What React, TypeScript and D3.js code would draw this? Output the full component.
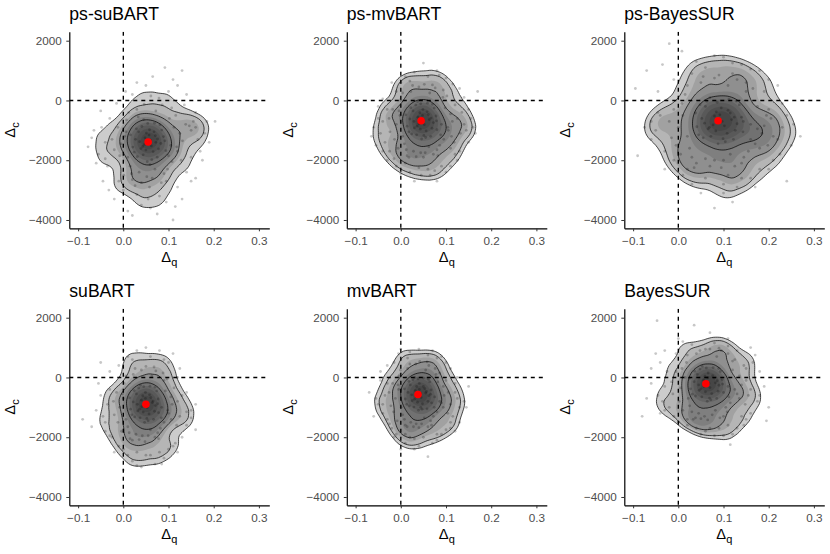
import { useEffect, useRef } from "react";
import * as d3 from "d3";

type Pt = [number, number];

// panel titles and the red posterior-mean markers
const titles = ["ps-suBART", "ps-mvBART", "ps-BayesSUR", "suBART", "mvBART", "BayesSUR"];
const meanQ = [0.055, 0.045, 0.088, 0.05, 0.038, 0.061];
const meanC = [-1390, -680, -680, -900, -570, -210];

const xTicks = [-0.1, 0, 0.1, 0.2, 0.3];
const yTicks = [-4000, -2000, 0, 2000];

// draws of (delta q, delta c)
const psSuBART: Pt[] = [
  [.055,-1390],[.048,-1250],[.062,-1520],[.071,-1180],[.039,-1610],[.058,-980],[.044,-1820],[.083,-1440],[.027,-1300],[.066,-1710],
  [.051,-1090],[.075,-1900],[.034,-1050],[.089,-1210],[.021,-1560],[.060,-1330],[.047,-1470],[.078,-1620],[.041,-870],[.069,-760],
  [.053,-2050],[.031,-1880],[.094,-1680],[.016,-1150],[.085,-990],[.057,-1160],[.036,-1380],[.072,-1400],[.063,-1980],[.045,-640],
  [.092,-1350],[.024,-1730],[.050,-1660],[.081,-820],[.068,-1050],[.029,-950],[.059,-2150],[.043,-1540],[.076,-1290],[.054,-770],
  [.105,-1500],[.003,-1200],[.112,-900],[.010,-1900],[.098,-2300],[-.005,-1450],[.120,-1700],[.018,-2450],[.030,-300],[.086,-150],
  [.064,-2600],[.040,-2750],[.125,-1100],[-.012,-900],[.108,-2050],[.007,-650],[.046,-120],[.072,-350],[.131,-1350],[-.020,-1650],
  [.095,-2700],[.015,-2200],[.116,-500],[.001,-2500],[.058,-2900],[.079,80],[.026,-2850],[.102,-600],[.138,-800],[-.008,-1850],
  [.090,-2450],[.035,-2400],[.061,150],[.128,-2000],[.012,-400],[.100,-1850],[.084,-2750],[-.025,-1300],[.052,-2550],[.118,-1550],
  [.006,-1050],[.070,-2300],[.033,-550],[.107,-250],[.020,-2650],[.146,-850],[.155,-700],[.150,-1000],
  [-.040,-1400],[-.070,-1250],[-.078,-1550],[.160,-900],[.203,-700],[.170,-1700],[.092,1100],[.130,1000],[.110,700],[.065,800],
  [.030,600],[.005,300],[-.045,-2700],[-.032,-3000],[.110,-4000],[.075,-3800],[.040,-3500],[.010,-3700],[-.020,-3300],[.130,-3300],
  [.150,-2700],[.160,-2600],[.095,-3400],[-.050,-350],[.140,200],[.055,-3300],[.190,-1400],[.175,-2000],[-.060,-2100],[.020,-3850],
];
const psSuBARTTail: Pt[] = [
  [-.030,-600],[-.035,-2200],[-.055,-1800],[-.048,-900],[.150,-1900],[.165,-1300],[.180,-1100],[.140,-2400],[.120,-2900],[.080,-3200],
  [.000,-3000],[-.010,-2700],[.100,300],[.050,500],[.020,200],[-.015,-100],[.120,500],[.160,-400],[.135,-150],[.185,-700],
  [-.065,-1000],[.060,-3600],[.115,-3550],[.030,-3150],[-.040,-1950],
];

const psMvBART: Pt[] = [
  [.045,-690],[.038,-560],[.052,-810],[.061,-470],[.030,-920],[.049,-300],[.035,-1150],[.072,-740],[.020,-620],[.056,-1020],
  [.042,-410],[.066,-1200],[.027,-350],[.078,-520],[.014,-860],[.050,-650],[.040,-780],[.069,-930],[.033,-150],[.059,-90],
  [.046,-1290],[.024,-1120],[.080,-980],[.011,-480],[.074,-250],[.048,-500],[.029,-700],[.063,-640],[.055,-1240],[.037,-40],
  [.079,-680],[.018,-1050],[.043,-960],[.070,-130],[.058,-380],[.022,-240],[.051,-1170],[.036,-860],[.067,-590],[.044,-110],
  [.090,-800],[-.002,-500],[.098,-250],[.004,-1200],[.086,-1500],[-.010,-800],[.105,-1000],[.012,-1650],[.022,300],[.076,420],
  [.054,-1750],[.034,-1880],[.110,-450],[-.018,-300],[.095,-1300],[.000,0],[.040,450],[.064,250],[.114,-700],[-.024,-1050],
  [.082,-1850],[.008,-1450],[.102,150],[-.006,-1600],[.050,-1900],[.070,520],[.018,-1900],[.093,100],[.120,-150],[-.014,-1300],
  [.080,-1650],[.028,-1700],[.052,540],[.112,-1200],[.004,250],[.088,-1150],[.072,-1800],[-.026,-600],[.044,-1750],[.104,-900],
  [-.004,-350],[.062,-1550],[.026,500],[.094,350],[.014,-1850],[.125,-600],[.132,-1100],[.118,-1400],
  [-.040,-700],[-.060,-900],[-.065,-1200],[.150,-1400],[.170,300],[.160,-900],[.050,1250],[.080,1000],[.030,950],[.010,800],
  [.100,750],[-.020,600],[-.040,-1700],[-.030,-2000],[.080,-2700],[.030,-2700],[.060,-2300],[.000,-2450],[-.010,-2200],[.110,-2200],
  [.130,-1700],[.140,-800],[.100,-2400],[-.050,-200],[.130,400],[.045,-2500],[.150,-300],[.125,-2000],[-.055,-1500],[.020,-2400],
];
const psMvBARTTail: Pt[] = [
  [-.030,-300],[-.045,-1100],[-.035,-1400],[.135,-400],[.145,-1000],[.155,-600],[.120,-1800],[.090,-2200],[.065,-2500],[.010,-2100],
  [-.015,-1950],[.115,550],[.060,800],[.020,650],[-.010,300],[.140,100],[.085,850],[-.050,-600],[.040,-2250],[.110,-1600],
  [.000,600],[.165,-1100],[-.040,50],[.075,-2350],[-.025,-1700],
];

const psBayesSUR: Pt[] = [
  [.090,-680],[.080,-520],[.102,-850],[.115,-420],[.066,-950],[.095,-250],[.072,-1200],[.130,-780],[.052,-600],[.108,-1100],
  [.084,-380],[.122,-1300],[.060,-200],[.140,-560],[.041,-880],[.097,-700],[.077,-820],[.126,-1000],[.063,-30],[.112,40],
  [.088,-1450],[.055,-1250],[.143,-1050],[.038,-420],[.135,-150],[.092,-480],[.058,-760],[.118,-640],[.104,-1380],[.070,90],
  [.144,-700],[.045,-1150],[.083,-1020],[.128,-20],[.110,-330],[.048,-140],[.099,-1280],[.069,-900],[.124,-560],[.086,-60],
  [.160,-800],[.010,-500],[.175,-200],[.020,-1200],[.155,-1700],[.000,-900],[.185,-1100],[.030,-1900],[.050,600],[.130,700],
  [.100,-2000],[.070,-2200],[.195,-500],[-.010,-300],[.170,-1450],[.015,200],[.080,750],[.110,500],[.190,-850],[-.015,-1250],
  [.140,-2100],[.025,-1600],[.165,400],[.005,-1800],[.095,-2250],[.120,900],[.040,-2100],[.150,300],[.200,-300],[-.005,-1500],
  [.145,-1900],[.060,-1950],[.090,850],[.180,-1600],[.020,500],[.160,-1300],[.125,-2200],[-.020,-700],[.080,-2000],[.175,-950],
  [.008,-100],[.115,-1800],[.055,800],[.150,600],[.035,-2250],[.205,-600],[.210,-1200],[.198,-1500],
  [-.040,-500],[-.070,1000],[-.095,400],[-.090,-1850],[-.060,-1300],[.270,-1200],[.250,-1500],[.240,-2700],[.230,-100],[-.020,1900],
  [.008,1650],[.080,1500],[.100,1450],[.040,1300],[.140,1200],[.180,1000],[-.030,-2300],[.010,-2500],[.080,-3600],[.120,-3400],
  [.050,-3100],[.160,-2600],[.200,-2300],[-.050,-1000],[.220,500],[.100,-2800],[.030,-2800],[.225,-1800],[-.045,300],[.170,-2900],
];
const psBayesSURTail: Pt[] = [
  [-.030,-1700],[-.045,-400],[-.060,-700],[-.010,700],[.030,900],[.060,1100],[.120,1250],[.160,1050],[.200,700],[.230,-900],
  [.220,-1300],[.240,-500],[.210,-2000],[.180,-2300],[.140,-2600],[.110,-2500],[.060,-2600],[.020,-2300],[-.010,-2000],[.255,-800],
  [-.075,-900],[.190,300],[.100,-3100],[-.035,1200],[.130,-2900],
];

const suBART: Pt[] = [
  [.046,-890],[.040,-760],[.053,-1010],[.061,-670],[.032,-1120],[.049,-500],[.037,-1350],[.071,-940],[.022,-820],[.057,-1220],
  [.043,-610],[.067,-1400],[.029,-550],[.077,-720],[.016,-1060],[.051,-850],[.041,-980],[.069,-1130],[.034,-350],[.059,-290],
  [.047,-1500],[.025,-1320],[.078,-1180],[.014,-680],[.074,-450],[.049,-700],[.031,-900],[.064,-840],[.055,-1450],[.038,-260],
  [.076,-880],[.019,-1250],[.044,-1160],[.070,-330],[.058,-580],[.024,-440],[.052,-1370],[.036,-1060],[.066,-790],[.045,-310],
  [.085,-1000],[.000,-700],[.093,-450],[.006,-1400],[.082,-1700],[-.008,-1000],[.100,-1200],[.013,-1850],[.022,100],[.072,220],
  [.055,-1950],[.035,-2080],[.105,-650],[-.015,-500],[.090,-1500],[.002,-200],[.040,250],[.063,50],[.108,-900],[-.020,-1250],
  [.078,-2050],[.010,-1650],[.097,-50],[-.004,-1800],[.048,-2150],[.068,350],[.020,-2100],[.090,-100],[.112,-350],[-.012,-1500],
  [.076,-1850],[.028,-1900],[.050,370],[.106,-1400],[.005,50],[.084,-1350],[.070,-2000],[-.022,-800],[.042,-1950],[.098,-1100],
  [-.002,-550],[.060,-1750],[.026,300],[.088,150],[.015,-2050],[.120,-800],[.125,-1300],[.118,-1600],
  [-.035,-900],[-.090,-1400],[-.070,-1650],[.160,-1750],[.140,-1150],[.110,800],[.050,1000],[.080,900],[.030,900],[.010,700],
  [-.050,500],[-.030,200],[-.040,-1800],[.000,-3100],[.070,-2900],[.040,-3000],[.060,-2600],[.010,-2600],[-.010,-2300],[.100,-2400],
  [.130,-2000],[.140,-500],[.090,-2700],[-.050,-600],[.120,0],[.030,-2500],[.150,-1100],[.115,-2200],[-.045,-1300],[.020,-2800],
];
const suBARTTail: Pt[] = [
  [-.030,-400],[-.040,-1500],[-.025,-2000],[.130,-600],[.140,-1600],[.150,-1350],[.110,-2300],[.080,-2500],[.050,-2600],[.000,-2400],
  [-.020,-2500],[.100,500],[.060,700],[.020,600],[-.010,400],[.125,300],[.090,600],[-.060,-1100],[.030,-2950],[.120,-2500],
  [.000,900],[.160,-900],[-.055,-200],[.085,-2900],[-.030,-1950],
];

const mvBART: Pt[] = [
  [.038,-560],[.032,-440],[.045,-670],[.053,-370],[.025,-780],[.041,-200],[.029,-990],[.062,-610],[.016,-500],[.048,-880],
  [.035,-300],[.058,-1050],[.021,-250],[.067,-420],[.010,-720],[.043,-530],[.034,-650],[.060,-800],[.027,-80],[.050,-20],
  [.039,-1100],[.019,-950],[.068,-850],[.008,-380],[.064,-150],[.041,-400],[.024,-580],[.055,-520],[.047,-1060],[.031,0],
  [.066,-560],[.013,-900],[.037,-830],[.061,-60],[.050,-300],[.018,-130],[.044,-1000],[.030,-730],[.057,-470],[.038,-50],
  [.075,-650],[-.005,-400],[.082,-150],[.001,-1000],[.072,-1300],[-.012,-700],[.090,-850],[.008,-1400],[.015,300],[.062,400],
  [.046,-1550],[.028,-1650],[.094,-300],[-.018,-200],[.080,-1150],[-.004,50],[.033,450],[.055,250],[.096,-600],[-.022,-950],
  [.068,-1600],[.004,-1250],[.086,150],[-.008,-1450],[.040,-1680],[.058,520],[.014,-1650],[.078,100],[.100,-100],[-.016,-1150],
  [.066,-1450],[.022,-1500],[.042,540],[.094,-1000],[-.001,250],[.074,-1000],[.060,-1650],[-.026,-500],[.034,-1550],[.086,-800],
  [-.006,-250],[.052,-1350],[.020,450],[.076,300],[.010,-1600],[.105,-500],[.110,-900],[.104,-1200],
  [-.035,-600],[-.070,-500],[-.060,-1300],[.150,-300],[.130,-1500],[.120,-1800],[.000,950],[.040,950],[.070,900],[.020,850],
  [.090,700],[-.030,400],[-.040,-1200],[-.020,-1700],[.060,-2650],[.000,-2400],[.040,-2300],[.020,-2000],[-.010,-1900],[.090,-1900],
  [.110,-1500],[.120,-200],[.080,-2100],[-.045,-100],[.110,300],[.030,-2050],[.125,-700],[.100,-1750],[-.050,-900],[.010,-2200],
];
const mvBARTTail: Pt[] = [
  [-.030,-200],[-.040,-900],[-.030,-1400],[.120,-500],[.130,-1000],[.140,-800],[.110,-1700],[.080,-1900],[.050,-2000],[.010,-1900],
  [-.015,-2000],[.100,500],[.060,750],[.015,650],[-.015,500],[.125,0],[.080,650],[-.055,-700],[.030,-2400],[.115,-1300],
  [-.005,800],[.145,-1000],[-.045,200],[.070,-2200],[-.025,-1550],
];

const bayesSUR: Pt[] = [
  [.063,-220],[.056,-90],[.070,-340],[.080,-20],[.046,-430],[.066,150],[.052,-650],[.090,-260],[.035,-140],[.074,-540],
  [.059,40],[.085,-700],[.042,100],[.097,-70],[.027,-380],[.068,-200],[.057,-310],[.088,-460],[.048,280],[.077,330],
  [.064,-800],[.038,-620],[.100,-500],[.025,-30],[.093,200],[.065,-10],[.045,-250],[.082,-180],[.072,-750],[.053,370],
  [.098,-220],[.031,-560],[.060,-480],[.089,300],[.076,60],[.036,210],[.069,-690],[.050,-380],[.086,-110],[.062,320],
  [.110,-300],[.015,0],[.120,250],[.022,-700],[.105,-1000],[.005,-350],[.130,-550],[.030,-1150],[.040,800],[.095,900],
  [.075,-1250],[.050,-1380],[.135,50],[-.005,200],[.115,-850],[.018,500],[.060,950],[.085,700],[.140,-250],[-.012,-550],
  [.100,-1300],[.025,-950],[.125,600],[.010,-1100],[.065,-1420],[.090,980],[.038,-1350],[.120,550],[.145,400],[.002,-800],
  [.108,-1150],[.045,-1200],[.070,950],[.135,-700],[.020,750],[.112,-650],[.092,-1350],[-.015,-150],[.058,-1300],[.125,-400],
  [.008,300],[.082,-1100],[.048,900],[.110,800],[.033,-1400],[.150,-100],[.155,-600],[.148,-900],
  [-.030,-300],[-.070,-700],[-.060,300],[-.080,-1300],[.195,-1450],[.170,750],[-.047,1900],[.035,1750],[.070,1500],[.000,1300],
  [.110,1300],[-.030,900],[-.020,-1000],[.000,-1500],[.115,-2250],[.120,-1900],[.130,-1700],[.060,-1800],[.040,-1700],[.150,-1400],
  [.180,-600],[.180,200],[.090,-1700],[-.040,500],[.160,1000],[.080,-1950],[.200,-1000],[.160,-1200],[-.045,-600],[.020,-1600],
];
const bayesSURTail: Pt[] = [
  [-.025,200],[-.035,-800],[-.030,-1100],[.150,300],[.160,-400],[.175,-800],[.140,-1300],[.110,-1600],[.070,-1700],[.020,-1400],
  [-.010,-1300],[.130,900],[.080,1150],[.030,1100],[-.005,800],[.165,500],[.110,1050],[-.060,-200],[.050,-1900],[.145,-1600],
  [.010,1200],[.190,-300],[-.050,800],[.100,-1950],[-.040,-1200],
];

const panels = [
  psSuBART.concat(psSuBARTTail),
  psMvBART.concat(psMvBARTTail),
  psBayesSUR.concat(psBayesSURTail),
  suBART.concat(suBARTTail),
  mvBART.concat(mvBARTTail),
  bayesSUR.concat(bayesSURTail),
];
// kernel width per panel (px), contour lines (share of the peak density) and shading steps
const bandwidths = [9, 8.5, 11, 8.5, 8, 8.5];
const lineLevels = [0.23, 0.29, 0.4, 0.54];
const shadeLevels = [0.23, 0.29, 0.35, 0.4, 0.47, 0.54, 0.62, 0.7, 0.8, 0.9];

const W = 830;
const H = 554;
const panelW = 200;
const panelH = 196.6;
const colLeft = [69.3, 346.8, 624.3];
const rowTop = [31.7, 308.7];
const font = "'Liberation Sans', Arial, Helvetica, sans-serif";

const fmtQ = (v: number) => (v < 0 ? "\u2212" : "") + Math.abs(v).toFixed(1);
const fmtC = (v: number) => (v < 0 ? "\u2212" : "") + Math.abs(v);

const drawChart = (el: SVGSVGElement) => {
  const svg = d3.select(el);
  svg.selectAll("*").remove();

  panels.forEach((pts, i) => {
    const left = colLeft[i % 3];
    const top = rowTop[Math.floor(i / 3)];
    const x = d3.scaleLinear().domain([-0.1195, 0.323]).range([0, panelW]);
    const y = d3.scaleLinear().domain([-4278, 2301]).range([panelH, 0]);

    const g = svg.append("g").attr("transform", `translate(${left},${top})`);
    const clipId = `clip-${i}`;
    g.append("clipPath").attr("id", clipId).append("rect").attr("width", panelW).attr("height", panelH);
    const body = g.append("g").attr("clip-path", `url(#${clipId})`);

    // 2d density of the draws
    const density = d3
      .contourDensity<Pt>()
      .x((d) => x(d[0]))
      .y((d) => y(d[1]))
      .size([panelW, Math.ceil(panelH)])
      .cellSize(2)
      .bandwidth(bandwidths[i]);
    const field = (density as any).contours(pts);
    const path = d3.geoPath();

    // overplotting shade inside the outer contour
    shadeLevels.forEach((f, k) => {
      body
        .append("path")
        .attr("d", path(field(field.max * f)))
        .attr("fill", "#000")
        .attr("fill-opacity", k === 0 ? 0.2 : 0.11);
    });

    body
      .selectAll("circle.pt")
      .data(pts)
      .enter()
      .append("circle")
      .attr("class", "pt")
      .attr("cx", (d) => x(d[0]))
      .attr("cy", (d) => y(d[1]))
      .attr("r", 1.4)
      .attr("fill", "#000")
      .attr("fill-opacity", 0.22);

    lineLevels.forEach((f) => {
      body
        .append("path")
        .attr("d", path(field(field.max * f)))
        .attr("fill", "none")
        .attr("stroke", "#000")
        .attr("stroke-width", 0.7);
    });

    body
      .append("line")
      .attr("x1", x(0))
      .attr("x2", x(0))
      .attr("y1", 0)
      .attr("y2", panelH)
      .attr("stroke", "#000")
      .attr("stroke-width", 1.35)
      .attr("stroke-dasharray", "4,4");
    body
      .append("line")
      .attr("x1", 0)
      .attr("x2", panelW)
      .attr("y1", y(0))
      .attr("y2", y(0))
      .attr("stroke", "#000")
      .attr("stroke-width", 1.35)
      .attr("stroke-dasharray", "4,4");

    body
      .append("circle")
      .attr("cx", x(meanQ[i]))
      .attr("cy", y(meanC[i]))
      .attr("r", 3.8)
      .attr("fill", "#FF0000");

    // axes
    const xAxis = g
      .append("g")
      .attr("transform", `translate(0,${panelH})`)
      .call(d3.axisBottom(x).tickValues(xTicks).tickFormat((d) => fmtQ(+d)).tickSize(3).tickSizeOuter(0).tickPadding(5));
    const yAxis = g
      .append("g")
      .call(d3.axisLeft(y).tickValues(yTicks).tickFormat((d) => fmtC(+d)).tickSize(3).tickSizeOuter(0).tickPadding(4.6));
    [xAxis, yAxis].forEach((a) => {
      a.select(".domain").attr("stroke", "#000").attr("stroke-width", 1.2);
      a.selectAll(".tick line").attr("stroke", "#333").attr("stroke-width", 1);
      a.selectAll(".tick text").attr("fill", "#4D4D4D").attr("font-size", 11.7).attr("font-family", font);
    });

    g.append("text")
      .attr("x", 0)
      .attr("y", -11.3)
      .attr("font-family", font)
      .attr("font-size", 17.6)
      .attr("fill", "#000")
      .text(titles[i]);

    const xl = g
      .append("text")
      .attr("x", panelW / 2)
      .attr("y", panelH + 33.4)
      .attr("text-anchor", "middle")
      .attr("font-family", font)
      .attr("font-size", 14.7)
      .attr("fill", "#000");
    xl.append("tspan").text("\u0394");
    xl.append("tspan").attr("dy", 4).attr("font-size", 11).text("q");

    const yl = g
      .append("text")
      .attr("transform", `translate(-54.3,${panelH / 2}) rotate(-90)`)
      .attr("text-anchor", "middle")
      .attr("font-family", font)
      .attr("font-size", 14.7)
      .attr("fill", "#000");
    yl.append("tspan").text("\u0394");
    yl.append("tspan").attr("dy", 4).attr("font-size", 11).text("c");
  });
};

export default function App() {
  const ref = useRef<SVGSVGElement>(null);
  useEffect(() => {
    if (ref.current) drawChart(ref.current);
  }, []);
  return (
    <svg
      ref={ref}
      width={W}
      height={H}
      style={{ position: "absolute", left: 0, top: 0, background: "#fff" }}
    />
  );
}
